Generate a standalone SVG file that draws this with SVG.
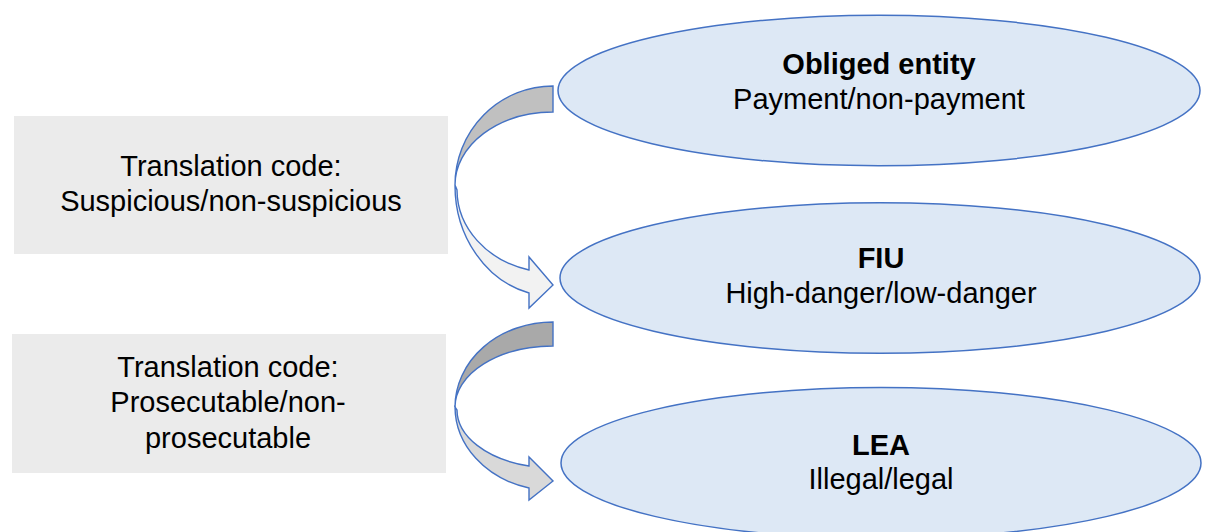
<svg xmlns="http://www.w3.org/2000/svg" width="1208" height="532" viewBox="0 0 1208 532">
  <style>
    .oval { fill: #dde8f5; stroke: #4472c4; stroke-width: 1.5; }
    .box { fill: #ebebeb; }
    .arr { stroke: #4472c4; stroke-width: 1.4; stroke-linejoin: miter; }
    text { font-family: "Liberation Sans", Arial, sans-serif; font-size: 29px; fill: #000; text-anchor: middle; }
    .b { font-weight: bold; }
  </style>
  <rect width="1208" height="532" fill="#ffffff"/>

  <!-- translation code boxes -->
  <g id="code1">
    <rect class="box" x="14" y="116" width="434" height="138"/>
    <text x="231" y="176">Translation code:</text>
    <text x="231" y="211">Suspicious/non-suspicious</text>
  </g>
  <g id="code2">
    <rect class="box" x="12" y="334" width="434" height="139"/>
    <text x="228" y="377">Translation code:</text>
    <text x="228" y="412">Prosecutable/non-</text>
    <text x="228" y="448">prosecutable</text>
  </g>

  <!-- actors -->
  <g id="obliged">
    <ellipse class="oval" cx="879" cy="90.5" rx="321" ry="75.3"/>
    <text class="b" x="879" y="74">Obliged entity</text>
    <text x="879" y="109">Payment/non-payment</text>
  </g>
  <g id="fiu">
    <ellipse class="oval" cx="880" cy="278" rx="320" ry="75.3"/>
    <text class="b" x="881" y="268">FIU</text>
    <text x="881" y="303">High-danger/low-danger</text>
  </g>
  <g id="lea">
    <ellipse class="oval" cx="881" cy="463" rx="320" ry="75.5"/>
    <text class="b" x="881" y="455">LEA</text>
    <text x="881" y="489">Illegal/legal</text>
  </g>

  <!-- curved arrows between actors -->
  <g id="connectors">
    <g id="arrow1">
      <path class="arr" fill="#c0c0c0" d="M553,86 A98,99 0 0 0 455,185 A98,73 0 0 1 553,112 Z"/>
      <path class="arr" fill="#f2f2f2" d="M455,185 A98,111 0 0 0 529,293 L529,308 L553,285 L529,257 L529,270 A96,83 0 0 1 457,190 Z"/>
    </g>
    <g id="arrow2">
      <path class="arr" fill="#a9a9a9" d="M553,322 A98,85 0 0 0 455,407 A98,61 0 0 1 553,346 Z"/>
      <path class="arr" fill="#d9d9d9" d="M455,407 A98,84 0 0 0 529,488 L529,500 L553,481 L529,457 L529,466 A96,58 0 0 1 457,410 Z"/>
    </g>
  </g>
</svg>
